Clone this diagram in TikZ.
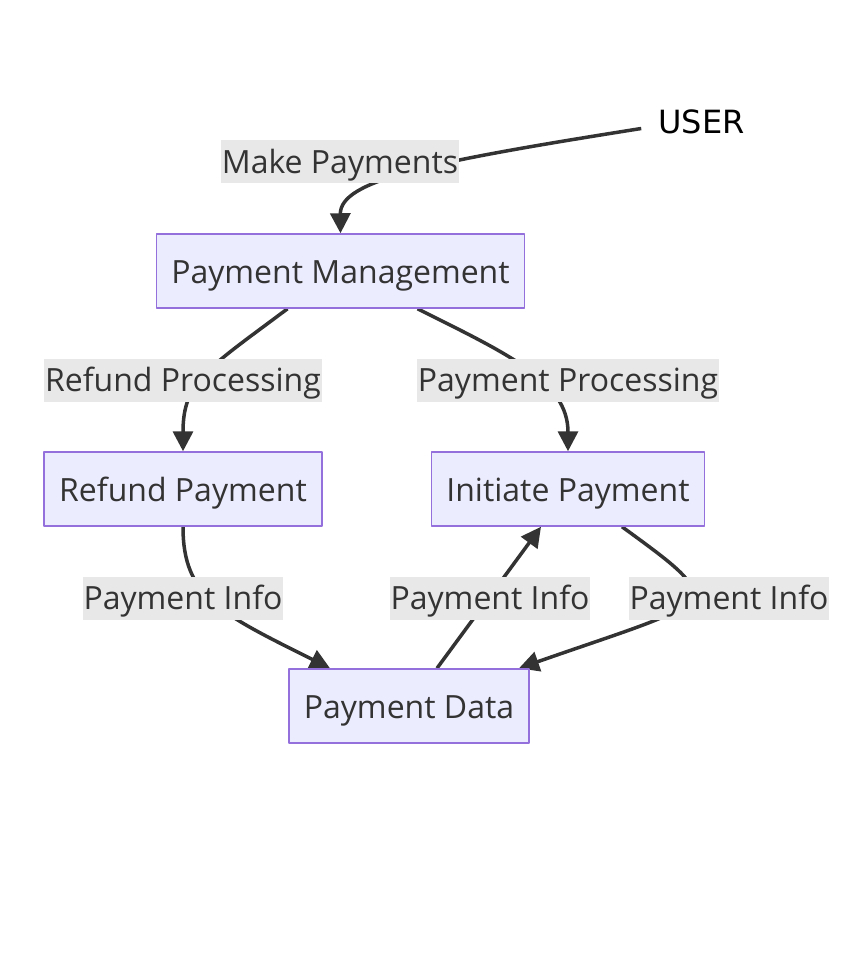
\documentclass[tikz,border=0pt]{standalone}
\usepackage{fontspec}
\setmainfont{Open Sans}
\newfontfamily\userfont{DejaVu Sans}
\usetikzlibrary{arrows.meta}
\usetikzlibrary{backgrounds}
\definecolor{boxfill}{HTML}{ECECFF}
\definecolor{boxline}{HTML}{9370DB}
\definecolor{lblfill}{HTML}{E8E8E8}
\definecolor{ink}{HTML}{333333}

\begin{document}
\begin{tikzpicture}[line cap=round,line join=round,x=1pt,y=-1pt,
  every node/.style={font=\fontsize{32}{38}\selectfont,text=ink},
  proc/.style={draw=boxline,fill=boxfill,line width=1.5pt,minimum height=74pt,inner xsep=15pt,text height=31pt,text depth=7pt},
  lbl/.style={fill=lblfill,minimum height=43pt,inner xsep=1pt,inner ysep=0pt,text height=30pt,text depth=7pt},
  flow/.style={draw=ink,line width=3.5pt,-{Triangle[length=20pt,width=20pt]}}]
\useasboundingbox (0,0) rectangle (856,978);
% boxes
\node[text=black,font=\userfont\fontsize{32}{38}\selectfont,inner xsep=17pt] (user) at (701.5,121.5) {USER};
\node[proc] (pm) at (340.5,271) {Payment Management};
\node[proc] (refund) at (183,489) {Refund Payment};
\node[proc] (init) at (568,489) {Initiate Payment};
\node[proc] (data) at (409,706) {Payment Data};
% edge labels
\node[lbl] (mp) at (340,161.5) {Make Payments};
\node[lbl] (rproc) at (183,380) {Refund Processing};
\node[lbl] (pproc) at (568,380) {Payment Processing};
\node[lbl] (info1) at (183,598) {Payment Info};
\node[lbl] (info2) at (490,598) {Payment Info};
\node[lbl] (info3) at (729,598) {Payment Info};
% edges
\begin{scope}[on background layer]
\draw[flow] ([shift={(0,7)}]user.west) .. controls (430,162) and (340,180) .. (pm.north);
\draw[flow] ([xshift=-53pt]pm.south) .. controls +(-80,60) and +(0,-70) .. (refund.north);
\draw[flow] ([xshift=77pt]pm.south) .. controls +(90,45) and +(0,-70) .. (init.north);
\draw[flow] (refund.south) .. controls +(0,70) and +(-110,-55) .. ([xshift=-79pt]data.north);
\draw[flow] ([xshift=28pt]data.north) -- ([xshift=-27pt]init.south);
\draw[flow] ([xshift=54pt]init.south) .. controls +(110,80) and +(200,-70) .. ([xshift=110pt]data.north);
\end{scope}
\end{tikzpicture}
\end{document}
